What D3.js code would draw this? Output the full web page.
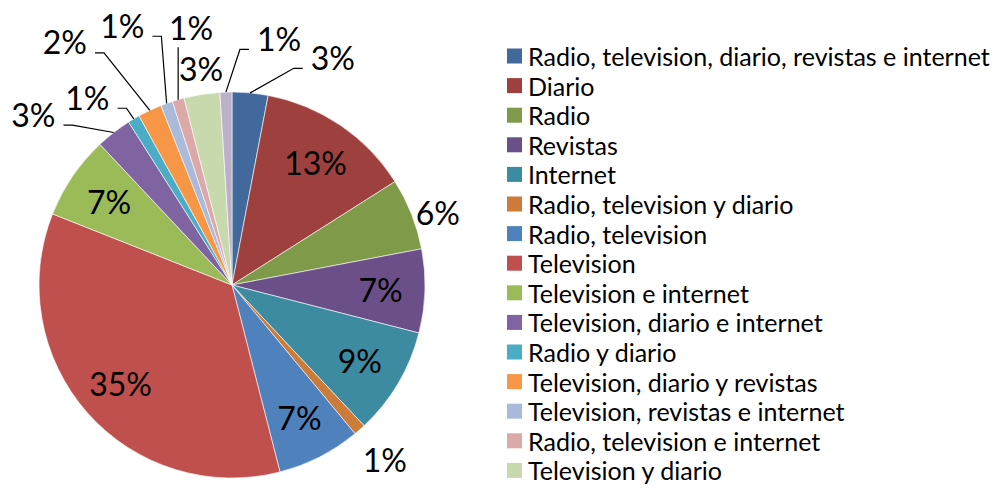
<!DOCTYPE html>
<html>
<head>
<meta charset="utf-8">
<script src="https://cdn.jsdelivr.net/npm/d3@7"></script>
<style>
  html, body { margin: 0; padding: 0; background: #fff; }
  svg { display: block; }
  text { font-family: Lato, "Open Sans", sans-serif; fill: #000; }
</style>
</head>
<body>
<svg id="chart" width="995" height="489"></svg>
<script>
const categories = [
  "Radio, television, diario, revistas e internet",
  "Diario",
  "Radio",
  "Revistas",
  "Internet",
  "Radio, television y diario",
  "Radio, television",
  "Television",
  "Television e internet",
  "Television, diario e internet",
  "Radio y diario",
  "Television, diario y revistas",
  "Television, revistas e internet",
  "Radio, television e internet",
  "Television y diario",
  "Diario e internet"
];
const values = [3, 13, 6, 7, 9, 1, 7, 35, 7, 3, 1, 2, 1, 1, 3, 1];
const colors = [
  "#41699B", "#9E413E", "#7F9A48", "#6A4F88", "#3D8BA1", "#CC7B38",
  "#4F81BD", "#C0504D", "#9BBB59", "#8064A2", "#4BACC6", "#F79646",
  "#A9BADB", "#DBA9A8", "#C9D9AE", "#BAB0C9"
];
// number of legend rows visible in the reference (the last one falls below the frame)
const legendVisible = 15;

// label layout: "in" = inside slice, callouts = [angleDeg, radiusPx, leader]
const labelLayout = {
  1: "in", 3: "in", 4: "in", 6: "in", 7: "in", 8: "in",
  2: [70.7, 218, false], 5: [138.8, 232, false],
  0: [23.9, 249, true], 15: [10.8, 251, true], 14: [-8.1, 219, false],
  13: [-9, 261, true], 12: [-22.9, 282, true], 11: [-34.5, 295, true],
  10: [-37.6, 237, true], 9: [-49.3, 262, true]
};

const svg = d3.select("#chart");
const cx = 232, cy = 285, R = 193;

const data = categories.map((c, i) => ({ name: c, value: values[i], color: colors[i], i }));
const pie = d3.pie().value(d => d.value).sort(null);
const arcs = pie(data);
const arc = d3.arc().innerRadius(0).outerRadius(R);

const g = svg.append("g").attr("transform", `translate(${cx},${cy})`);
g.selectAll("path.slice").data(arcs).join("path")
  .attr("class", "slice")
  .attr("d", arc)
  .attr("fill", d => d.data.color)
  .attr("stroke", "#ffffff")
  .attr("stroke-width", 0.6)
  .attr("stroke-linejoin", "round");

const pctFont = 32;
const polar = (deg, r) => [r * Math.sin(deg * Math.PI / 180), -r * Math.cos(deg * Math.PI / 180)];

arcs.forEach(a => {
  const i = a.data.i;
  const lay = labelLayout[i];
  const midDeg = (a.startAngle + a.endAngle) / 2 * 180 / Math.PI;
  let pos;
  if (lay === "in") pos = polar(midDeg, R * 0.77);
  else pos = polar(lay[0], lay[1]);
  const t = g.append("text")
    .attr("x", pos[0]).attr("y", pos[1])
    .attr("text-anchor", "middle")
    .attr("dominant-baseline", "central")
    .style("font-size", pctFont + "px")
    .text(a.data.value + "%");
  if (lay !== "in" && lay[2]) {
    const bb = t.node().getBBox();
    const end = polar(midDeg, R);
    const halfW = bb.width / 2;
    let pts;
    if (end[0] > pos[0] - halfW && end[0] < pos[0] + halfW) {
      pts = [[end[0], pos[1] + 20], end];
    } else if (end[0] < pos[0]) {
      const sx = pos[0] - halfW - 8, sy = pos[1] + 11;
      pts = [[sx, sy], [sx - 9, sy], end];
    } else {
      const sx = pos[0] + halfW + 8, sy = pos[1] + 11;
      pts = [[sx, sy], [sx + 9, sy], end];
    }
    g.append("path")
      .attr("d", d3.line()(pts))
      .attr("fill", "none")
      .attr("stroke", "#000")
      .attr("stroke-width", 1.2);
  }
});

// legend
const legendX = 507, legendY0 = 56, rowH = 29.6;
const legend = svg.append("g");
const rows = legend.selectAll("g.row").data(data.slice(0, legendVisible)).join("g")
  .attr("class", "row")
  .attr("transform", (d, i) => `translate(${legendX},${legendY0 + i * rowH})`);
rows.append("rect")
  .attr("x", 0).attr("y", -7.5).attr("width", 15).attr("height", 15)
  .attr("fill", d => d.color);
const labels = rows.append("text")
  .attr("x", 21).attr("y", 0)
  .attr("dominant-baseline", "central")
  .style("font-size", "22px")
  .text(d => d.name);
// fit font so longest label matches reference width
const w0 = labels.nodes()[0].getComputedTextLength();
const fs = 22 * 462 / w0;
labels.style("font-size", fs + "px");
</script>
</body>
</html>
